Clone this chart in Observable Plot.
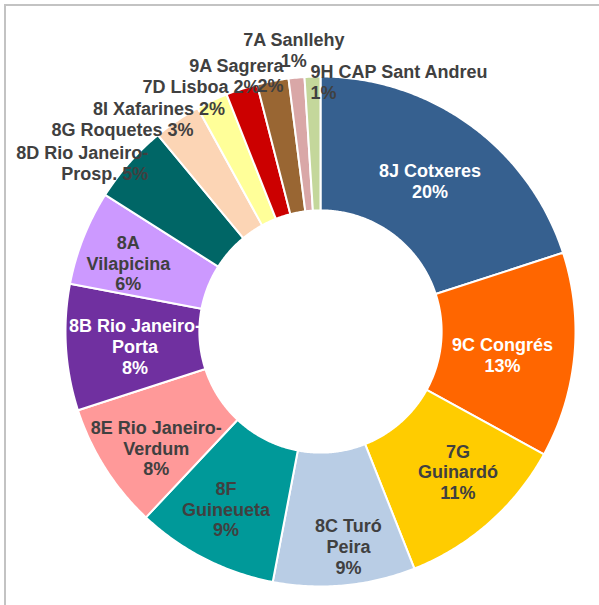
<!DOCTYPE html>
<html><head><meta charset="utf-8">
<script src="https://cdn.jsdelivr.net/npm/d3@7"></script>
<script src="https://cdn.jsdelivr.net/npm/@observablehq/plot@0.6"></script>
<style>
html,body{margin:0;padding:0;background:#fff;overflow:hidden;width:599px;height:605px;}
#chart{position:absolute;left:0;top:0;}
#frame{position:absolute;left:4px;top:4px;width:640px;height:640px;border-left:2px solid #c3c3c3;border-top:2px solid #c3c3c3;box-sizing:border-box;pointer-events:none;}
</style></head><body>
<div id="chart"></div><div id="frame"></div>
<script>
// ---- data ----
const categories = ["8J Cotxeres","9C Congrés","7G Guinardó","8C Turó Peira","8F Guineueta","8E Rio Janeiro-Verdum","8B Rio Janeiro-Porta","8A Vilapicina","8D Rio Janeiro-Prosp.","8G Roquetes","8I Xafarines","7D Lisboa","9A Sagrera","7A Sanllehy","9H CAP Sant Andreu"];
const values = [20,13,11,9,9,8,8,6,5,3,2,2,2,1,1];
const colors = ["#36608f","#ff6600","#ffcc00","#b9cde5","#009999","#ff9999","#7030a0","#cc99ff","#006666","#fcd5b5","#ffff99","#cc0000","#996633","#d9a7a7","#c4d79b"];
// label text as wrapped in the chart, and separator before the percentage
const wrappedNames = ["8J Cotxeres","9C Congrés","7G\nGuinardó","8C Turó\nPeira","8F\nGuineueta","8E Rio Janeiro-\nVerdum","8B Rio Janeiro-\nPorta","8A\nVilapicina","8D Rio Janeiro-\nProsp.","8G Roquetes","8I Xafarines","7D Lisboa","9A Sagrera","7A Sanllehy","9H CAP Sant Andreu"];
const pctSeparator = ["\n","\n","\n","\n","\n","\n","\n","\n"," "," "," "," ","\n","\n","\n"];
const labelColor = ["white","white","#404040","#404040","#404040","#404040","white","#404040","#404040","#404040","#404040","#404040","#404040","#404040","#404040"];
// label placement: [angle offset from slice middle (deg), radius as fraction of outer radius, anchor]
const labelLayout = [[0,0.73,"middle"],[2,0.72,"middle"],[-3,0.77,"middle"],[-2,0.85,"middle"],[1,0.79,"middle"],[-3,0.79,"middle"],[-1,0.73,"middle"],[-2,0.80,"middle"],[3,0.945,"end"],[2,0.935,"end"],[2,0.95,"end"],[4,0.99,"end"],[2.6,1.015,"end"],[0,1.11,"middle"],[-0.5,0.98,"start"]];

const innerRatio = 0.475;

// ---- geometry in data units (outer radius = 1) ----
const total = d3.sum(values);
let cum = 0;
const slices = categories.map((c, i) => {
  const a0 = cum / total * 2 * Math.PI; cum += values[i];
  const a1 = cum / total * 2 * Math.PI;
  return {name: c, a0, a1, i};
});
const pts = [];
for (const s of slices) {
  const n = Math.max(2, Math.ceil((s.a1 - s.a0) / (Math.PI / 360)));
  for (let k = 0; k <= n; k++) { const a = s.a0 + (s.a1 - s.a0) * k / n; pts.push({name: s.name, x: Math.sin(a), y: Math.cos(a)}); }
  for (let k = n; k >= 0; k--) { const a = s.a0 + (s.a1 - s.a0) * k / n; pts.push({name: s.name, x: innerRatio * Math.sin(a), y: innerRatio * Math.cos(a)}); }
}
const labels = slices.map(s => {
  const [dA, r, anchor] = labelLayout[s.i];
  const a = (s.a0 + s.a1) / 2 + dA * Math.PI / 180;
  return {x: r * Math.sin(a), y: r * Math.cos(a), text: wrappedNames[s.i] + pctSeparator[s.i] + values[s.i] + "%", anchor, color: labelColor[s.i]};
});

const textOpts = {fontFamily: "'Liberation Sans', Arial, sans-serif", fontWeight: "bold", fontSize: 18, lineHeight: 1.14};
const groups = d3.groups(labels, d => d.anchor + "|" + d.color);
const textMarks = groups.map(([key, arr]) => Plot.text(arr, {x: "x", y: "y", text: "text", textAnchor: arr[0].anchor, fill: arr[0].color, ...textOpts}));

const chart = Plot.plot({
  width: 599, height: 605,
  margin: 0,
  style: {background: "transparent"},
  x: {domain: [-1, 1], range: [65, 575], axis: null},
  y: {domain: [-1, 1], range: [586, 76], axis: null},
  color: {domain: categories, range: colors},
  marks: [
    Plot.line(pts, {x: "x", y: "y", z: "name", fill: "name", stroke: "white", strokeWidth: 2, curve: "linear-closed"}),
    ...textMarks
  ]
});
document.getElementById("chart").appendChild(chart);
</script>
</body></html>
